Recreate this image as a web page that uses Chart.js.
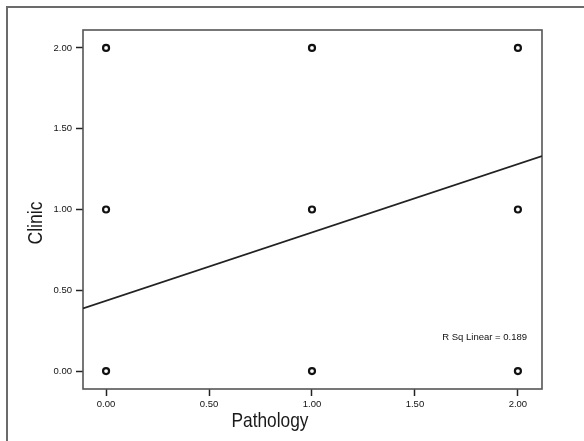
<!DOCTYPE html>
<html>
<head>
<meta charset="utf-8">
<title>Clinic vs Pathology</title>
<script src="https://cdn.jsdelivr.net/npm/chart.js@4"></script>
<style>
  html, body { margin: 0; padding: 0; background: #fff; }
  #wrap { width: 584px; height: 441px; position: relative; }
</style>
</head>
<body>
<div id="wrap"><canvas id="scatter-chart" width="584" height="441"></canvas></div>
<script>
/*---------------------------------------------------
    Data
  ---------------------------------------------------*/
var pathology = [0, 0, 0, 1, 1, 1, 2, 2, 2];
var clinic = [0, 1, 2, 0, 1, 2, 0, 1, 2];
var xTicks = [0, 0.5, 1, 1.5, 2];
var yTicks = [0, 0.5, 1, 1.5, 2];
var xRange = [-0.112, 2.117];
var yRange = [-0.111, 2.111];
var fitIntercept = 0.435;
var fitSlope = 0.423;
var rSquare = 0.189;

var points = pathology.map(function (p, i) {
  return { x: p, y: clinic[i] };
});
var fitLine = xRange.map(function (x) {
  return { x: x, y: fitIntercept + fitSlope * x };
});

/*---------------------------------------------------
    Frame, axis titles and R Sq label
  ---------------------------------------------------*/
const spssFrame = {
  id: "spssFrame",
  beforeDraw(chart) {
    const ctx = chart.ctx;
    ctx.save();
    ctx.strokeStyle = "#6b6b6b";
    ctx.lineWidth = 2;
    ctx.strokeRect(7, 7, 700, 600);
    ctx.restore();
  },
  beforeDatasetsDraw(chart) {
    const ctx = chart.ctx;
    const a = chart.chartArea;
    ctx.save();
    ctx.strokeStyle = "#555";
    ctx.lineWidth = 1.6;
    ctx.strokeRect(a.left, a.top, a.right - a.left, a.bottom - a.top);
    ctx.restore();
  },
  afterDraw(chart) {
    const ctx = chart.ctx;
    const a = chart.chartArea;
    ctx.save();
    ctx.fillStyle = "#1a1a1a";
    ctx.font = "21px 'Liberation Sans', Arial, sans-serif";

    // x title
    ctx.textAlign = "center";
    ctx.textBaseline = "alphabetic";
    ctx.fillText("Pathology", 270, 427, 77);

    // y title
    ctx.translate(35, 223);
    ctx.rotate(-Math.PI / 2);
    ctx.textBaseline = "middle";
    ctx.fillText("Clinic", 0, 1, 43);
    ctx.restore();

    ctx.save();
    ctx.fillStyle = "#111";
    ctx.font = "9.5px 'Liberation Sans', Arial, sans-serif";
    ctx.textAlign = "right";
    ctx.textBaseline = "middle";
    ctx.fillText("R Sq Linear = " + rSquare.toFixed(3), a.right - 15, 337);
    ctx.restore();
  },
};

/*---------------------------------------------------
    Scatter Chart
  ---------------------------------------------------*/
var ctx = document.getElementById("scatter-chart");
var myChart = new Chart(ctx, {
  type: "scatter",
  data: {
    datasets: [
      {
        label: "Fit line",
        type: "line",
        data: fitLine,
        borderColor: "#222",
        borderWidth: 1.7,
        pointRadius: 0,
        fill: false,
        order: 2,
      },
      {
        label: "Observed",
        data: points,
        pointRadius: 3,
        pointBorderWidth: 2.2,
        pointBackgroundColor: "#fff",
        pointBorderColor: "#111",
        order: 1,
      },
    ],
  },
  options: {
    responsive: false,
    animation: false,
    layout: {
      padding: { left: 0, top: 30, right: 42, bottom: 0 },
    },
    plugins: {
      legend: { display: false },
      tooltip: { enabled: false },
    },
    scales: {
      x: {
        type: "linear",
        min: xRange[0],
        max: xRange[1],
        border: { display: false },
        grid: {
          drawOnChartArea: false,
          drawTicks: true,
          tickLength: 7,
          tickWidth: 1.5,
          tickColor: "#222",
        },
        ticks: {
          padding: 3,
          color: "#111",
          font: { family: "'Liberation Sans', Arial, sans-serif", size: 9.5 },
          maxRotation: 0,
          callback: function (v) {
            return Number(v).toFixed(2);
          },
        },
        afterBuildTicks: function (scale) {
          scale.ticks = xTicks.map(function (v) {
            return { value: v };
          });
        },
        afterFit: function (scale) {
          scale.height = 52;
        },
      },
      y: {
        type: "linear",
        min: yRange[0],
        max: yRange[1],
        border: { display: false },
        grid: {
          drawOnChartArea: false,
          drawTicks: true,
          tickLength: 7,
          tickWidth: 1.5,
          tickColor: "#222",
        },
        ticks: {
          padding: 4,
          color: "#111",
          font: { family: "'Liberation Sans', Arial, sans-serif", size: 9.5 },
          callback: function (v) {
            return Number(v).toFixed(2);
          },
        },
        afterBuildTicks: function (scale) {
          scale.ticks = yTicks.map(function (v) {
            return { value: v };
          });
        },
        afterFit: function (scale) {
          scale.width = 83;
        },
      },
    },
  },
  plugins: [spssFrame],
});
</script>
</body>
</html>
